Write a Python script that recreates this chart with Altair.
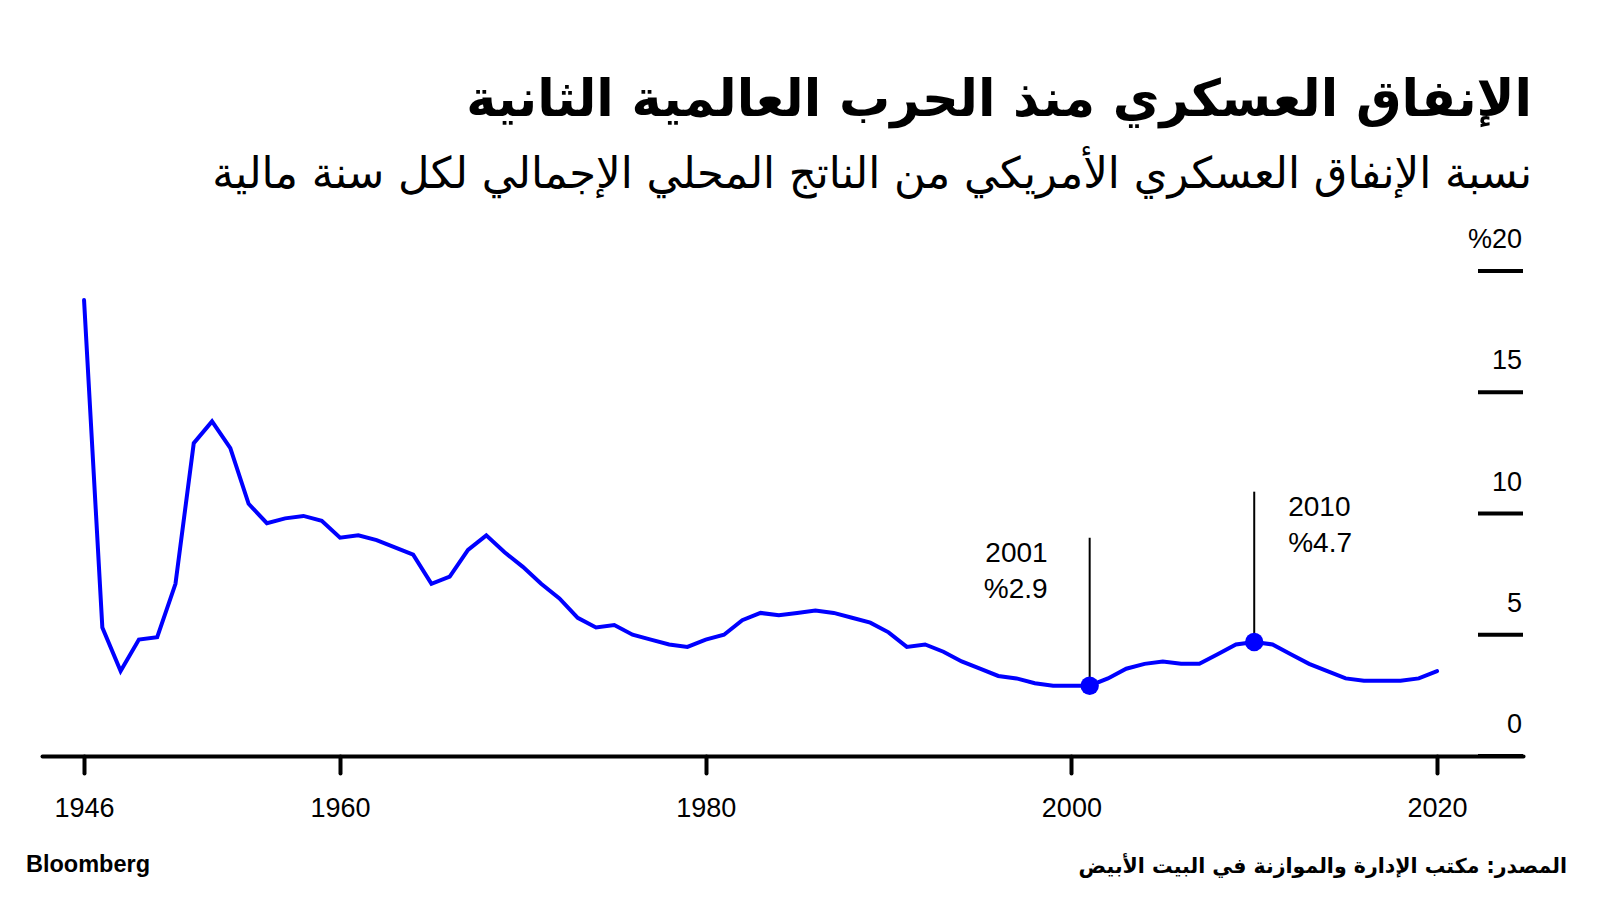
import altair as alt
import pandas as pd

# ---- data ----
years = list(range(1946, 2021))
values = [
    18.8, 5.3, 3.5, 4.8, 4.9, 7.1, 12.9, 13.8, 12.7, 10.4,   # 1946-1955
    9.6, 9.8, 9.9, 9.7, 9.0, 9.1, 8.9, 8.6, 8.3, 7.1,        # 1956-1965
    7.4, 8.5, 9.1, 8.4, 7.8, 7.1, 6.5, 5.7, 5.3, 5.4,        # 1966-1975
    5.0, 4.8, 4.6, 4.5, 4.8, 5.0, 5.6, 5.9, 5.8, 5.9,        # 1976-1985
    6.0, 5.9, 5.7, 5.5, 5.1, 4.5, 4.6, 4.3, 3.9, 3.6,        # 1986-1995
    3.3, 3.2, 3.0, 2.9, 2.9, 2.9, 3.2, 3.6, 3.8, 3.9,        # 1996-2005
    3.8, 3.8, 4.2, 4.6, 4.7, 4.6, 4.2, 3.8, 3.5, 3.2,        # 2006-2015
    3.1, 3.1, 3.1, 3.2, 3.5,                                 # 2016-2020
]

x_ticks = [1946, 1960, 1980, 2000, 2020]
y_ticks = [0, 5, 10, 15, 20]
y_tick_labels = ["0", "5", "10", "15", "%20"]

ann_years = [2001, 2010]
ann_values = [2.9, 4.7]
ann_tops = [9.0, 10.9]
ann_labels = ["2001\n%2.9", "2010\n%4.7"]

TITLE = "الإنفاق العسكري منذ الحرب العالمية الثانية"
SUBTITLE = "نسبة الإنفاق العسكري الأمريكي من الناتج المحلي الإجمالي لكل سنة مالية"
SOURCE = "المصدر: مكتب الإدارة والموازنة في البيت الأبيض"
BRAND = "Bloomberg"

# ---- tables ----
df = pd.DataFrame({"year": years, "value": values})
ticks_df = pd.DataFrame({"v": y_ticks, "label": y_tick_labels})
ann_df = pd.DataFrame({"year": ann_years, "value": ann_values,
                       "top": ann_tops, "label": ann_labels})
brand_df = pd.DataFrame({"t": [BRAND]})
source_df = pd.DataFrame({"t": [SOURCE]})

W, H = 1481, 485
BLUE = "#0000ff"
NUM_FONT = "Liberation Sans"
AR_FONT = "DejaVu Sans"

xscale = alt.Scale(domain=[1943.7, 2024.7], nice=False, zero=False)
yscale = alt.Scale(domain=[0, 20], nice=False)

xaxis = alt.Axis(values=x_ticks, format="d", title=None, grid=False,
                 domainColor="black", domainWidth=4, domainCap="round",
                 tickColor="black", tickWidth=4, tickSize=17, tickCap="round",
                 labelFont=NUM_FONT, labelFontSize=27, labelColor="black",
                 labelPadding=22, labelFlush=False)

base = alt.Chart(df)

line = base.mark_line(color=BLUE, strokeWidth=4, strokeCap="round").encode(
    x=alt.X("year:Q", scale=xscale, axis=xaxis),
    y=alt.Y("value:Q", scale=yscale, axis=None),
)

tick_rules = alt.Chart(ticks_df).mark_rule(color="black", strokeWidth=4).encode(
    x=alt.value(W - 45), x2=alt.value(W),
    y=alt.Y("v:Q", scale=yscale, axis=None),
)
tick_text = alt.Chart(ticks_df).mark_text(
    align="right", baseline="alphabetic", dy=-23, font=NUM_FONT,
    fontSize=27, color="black"
).encode(
    x=alt.value(W - 1),
    y=alt.Y("v:Q", scale=yscale, axis=None),
    text="label:N",
)

ann_rules = alt.Chart(ann_df).mark_rule(color="black", strokeWidth=2).encode(
    x=alt.X("year:Q", scale=xscale),
    y=alt.Y("value:Q", scale=yscale),
    y2="top:Q",
)
ann_dots = alt.Chart(ann_df).mark_circle(color=BLUE, size=340, opacity=1).encode(
    x=alt.X("year:Q", scale=xscale),
    y=alt.Y("value:Q", scale=yscale),
)
ann_left = alt.Chart(ann_df).transform_filter(alt.datum.year == ann_years[0]).mark_text(
    align="right", baseline="alphabetic", dx=-42, dy=24, lineBreak="\n",
    lineHeight=36, font=NUM_FONT, fontSize=28, color="black"
).encode(
    x=alt.X("year:Q", scale=xscale),
    y=alt.Y("top:Q", scale=yscale),
    text="label:N",
)
ann_right = alt.Chart(ann_df).transform_filter(alt.datum.year == ann_years[1]).mark_text(
    align="left", baseline="alphabetic", dx=34, dy=24, lineBreak="\n",
    lineHeight=36, font=NUM_FONT, fontSize=28, color="black"
).encode(
    x=alt.X("year:Q", scale=xscale),
    y=alt.Y("top:Q", scale=yscale),
    text="label:N",
)

brand = alt.Chart(brand_df).mark_text(
    align="left", baseline="alphabetic", font=NUM_FONT, fontSize=23.5,
    fontWeight="bold", color="black"
).encode(x=alt.value(-16), y=alt.value(H + 116), text="t:N")

source = alt.Chart(source_df).mark_text(
    align="right", baseline="alphabetic", font=AR_FONT, fontSize=20.5,
    fontWeight="bold", color="black"
).encode(x=alt.value(W + 44), y=alt.value(H + 117), text="t:N")

chart = alt.layer(
    tick_rules, tick_text, line, ann_rules, ann_dots, ann_left, ann_right,
    brand, source
).properties(
    width=W, height=H,
    background="white",
    title=alt.Title(
        text=TITLE, subtitle=SUBTITLE, anchor="end", orient="top", frame="group",
        font=AR_FONT, fontSize=51, fontWeight="bold", color="black",
        subtitleFont=AR_FONT, subtitleFontSize=43.3, subtitleColor="black",
        subtitleFontWeight="normal", subtitlePadding=27, offset=29, dx=9,
    ),
    padding={"left": 34, "top": 263, "right": 60, "bottom": 130},
    autosize=alt.AutoSizeParams(type="none"),
).configure_view(strokeWidth=0, stroke="transparent")

chart.save("out.html", embed_options={"renderer": "svg", "actions": False})
